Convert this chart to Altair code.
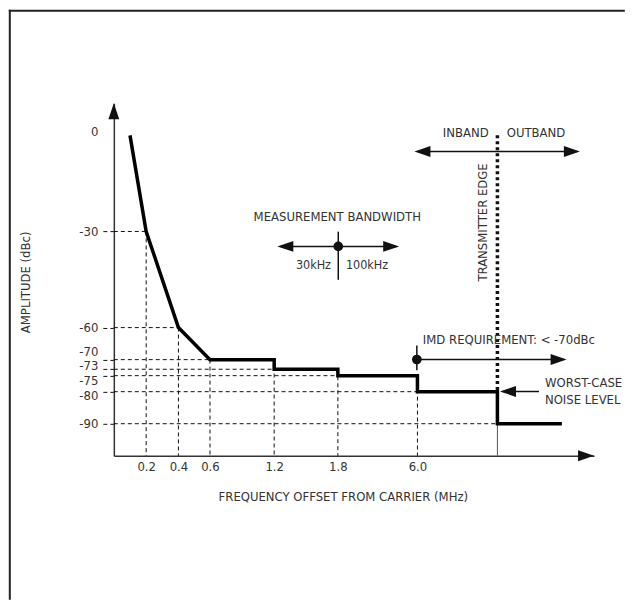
import altair as alt
import pandas as pd

# ---------------- data ----------------
EDGE = 10.0          # transmitter edge (unlabelled position on the schematic axis)
END = 14.0           # end of the -90 dBc segment
XMAX = 16.0          # end of the frequency axis (arrow tip)

curve_freq = [0.1, 0.2, 0.4, 0.6, 1.2, 1.2, 1.8, 1.8, 6.0, 6.0, EDGE, EDGE, END]
curve_db = [0, -30, -60, -70, -70, -73, -73, -75, -75, -80, -80, -90, -90]

x_ticks = [0.2, 0.4, 0.6, 1.2, 1.8, 6.0]
y_ticks = [0, -30, -60, -70, -73, -75, -80, -90]

# ---------------- styling ----------------
FONT = "DejaVu Sans Condensed, Liberation Sans Narrow, sans-serif"
TXT = "#333333"
INK = "#111111"
W, H = 481, 353
FS = 13

# schematic (piecewise) frequency axis
X_DOMAIN = [0, 0.2, 0.4, 0.6, 1.2, 1.8, 6.0, EDGE, END, XMAX]
X_RANGE = [0, 32.4, 64.7, 96.3, 160.6, 224.4, 304.1, 384.2, 448.8, W]
xscale = alt.Scale(domain=X_DOMAIN, range=X_RANGE, nice=False, zero=False)
yscale = alt.Scale(domain=[-100, 10], nice=False, zero=False)

xaxis = alt.Axis(
    values=x_ticks, format=".1f", ticks=False, grid=False, labelPadding=5,
    labelFont=FONT, labelFontSize=FS, labelColor=TXT, labelFlush=False, labelOverlap=False,
    domainColor="#333333", domainWidth=1.5,
    title="FREQUENCY OFFSET FROM CARRIER (MHz)", titleX=229.4, titleY=41,
    titleBaseline="middle", titleAlign="center", titleFont=FONT, titleFontSize=FS,
    titleFontWeight="normal", titleColor=TXT,
)
yaxis = alt.Axis(
    values=y_ticks, labelExpr="'' + datum.value", grid=False,
    ticks=True, tickSize=11, tickDash=[4, 3], tickColor=INK, tickWidth=1,
    tickOpacity={"condition": {"test": "datum.value == 0", "value": 0}, "value": 1},
    labelPadding=5, labelFont=FONT, labelFontSize=FS, labelColor=TXT,
    labelFlush=False, labelOverlap=False,
    labelOffset={"condition": [
        {"test": "datum.value == 0", "value": -4},
        {"test": "datum.value == -70", "value": -8.3},
        {"test": "datum.value == -73", "value": -3.5},
        {"test": "datum.value == -75", "value": 4.6},
        {"test": "datum.value == -80", "value": 3.6},
    ], "value": 0},
    domainColor="#333333", domainWidth=1.5,
    title="AMPLITUDE (dBc)", titleX=-88.2, titleY=178.8, titleAngle=270,
    titleBaseline="middle", titleAlign="center", titleFont=FONT, titleFontSize=FS,
    titleFontWeight="normal", titleColor=TXT,
)


def X(field):
    return alt.X(field, type="quantitative", scale=xscale, axis=xaxis)


def Y(field):
    return alt.Y(field, type="quantitative", scale=yscale, axis=yaxis)


# ---------------- derived tables ----------------
curve = pd.DataFrame({"f": curve_freq, "db": curve_db, "i": range(len(curve_freq))})

h_rows = []
for lv in y_ticks[1:]:
    end = min(f for f, d in zip(curve_freq, curve_db) if d == lv)
    h_rows.append({"f": 0.0, "f2": end, "db": lv})
hdash = pd.DataFrame(h_rows)

v_rows = []
for t in x_ticks:
    top = max(d for f, d in zip(curve_freq, curve_db) if f == t)
    v_rows.append({"f": t, "db": top, "db2": -100})
vdash = pd.DataFrame(v_rows)

edge_thin = pd.DataFrame({"f": [EDGE], "db": [-90], "db2": [-100]})
edge_dot = pd.DataFrame({"f": [EDGE], "db": [0], "db2": [-80]})

one = pd.DataFrame({"k": [0]})

# ---------------- helpers for annotation marks (pixel placement) ----------------
ARROW = {
    "right": "M0,0L-2,-0.68L-2,0.68Z",
    "left": "M0,0L2,-0.68L2,0.68Z",
    "up": "M0,0L-0.68,2L0.68,2Z",
}


def text(t, x, y, align="center", angle=0, size=FS):
    return alt.Chart(one).mark_text(
        text=t, align=align, baseline="middle", angle=angle,
        font=FONT, fontSize=size, color=TXT,
    ).encode(x=alt.value(x), y=alt.value(y))


def hseg(x, x2, y, width=1.5, color=INK):
    return alt.Chart(one).mark_rule(strokeWidth=width, color=color, strokeCap="square").encode(
        x=alt.value(x), x2=alt.value(x2), y=alt.value(y))


def vseg(x, y, y2, width=1.5, color=INK):
    return alt.Chart(one).mark_rule(strokeWidth=width, color=color, strokeCap="square").encode(
        x=alt.value(x), y=alt.value(y), y2=alt.value(y2))


def head(x, y, d):
    return alt.Chart(one).mark_point(
        shape=ARROW[d], size=256, filled=True, fill=INK, strokeWidth=0, opacity=1,
    ).encode(x=alt.value(x), y=alt.value(y))


def dot(x, y):
    return alt.Chart(one).mark_point(
        shape="circle", size=95, filled=True, fill=INK, strokeWidth=0, opacity=1,
    ).encode(x=alt.value(x), y=alt.value(y))


# ---------------- layers ----------------
frame = [
    hseg(-104.2, 510.8, -92.7, width=2, color="#222222"),
    vseg(-104.2, -92.7, 496.3, width=2, color="#222222"),
]

h_layer = alt.Chart(hdash).mark_rule(strokeDash=[4, 3], strokeWidth=1, color=INK).encode(
    x=X("f"), x2="f2", y=Y("db"))
v_layer = alt.Chart(vdash).mark_rule(strokeDash=[4, 3], strokeWidth=1, color=INK).encode(
    x=X("f"), y=Y("db"), y2="db2")
edge_layer = alt.Chart(edge_thin).mark_rule(strokeWidth=1, color="#555555").encode(
    x=X("f"), y=Y("db"), y2="db2")
dotted_layer = alt.Chart(edge_dot).mark_rule(strokeDash=[3, 3], strokeWidth=3.5, color=INK).encode(
    x=X("f"), y=Y("db"), y2="db2")
curve_layer = alt.Chart(curve).mark_line(
    strokeWidth=3.5, color="black", strokeJoin="miter", strokeCap="butt").encode(
    x=X("f"), y=Y("db"), order="i:Q")

axis_heads = [head(W, H, "right"), head(0, 0, "up")]

annot = [
    # measurement bandwidth
    text("MEASUREMENT BANDWIDTH", 223.8, 114.3),
    hseg(168, 282, 143.3),
    head(163.8, 143.3, "left"), head(285.8, 143.3, "right"),
    vseg(224.8, 129.3, 176),
    dot(224.8, 143.3),
    text("30kHz", 217.5, 162.3, align="right", size=12.5),
    text("100kHz", 232.5, 162.3, align="left", size=12.5),
    # inband / outband
    text("INBAND", 375.5, 30, align="right"),
    text("OUTBAND", 393.5, 30, align="left"),
    hseg(305, 463, 48.3),
    head(301.1, 48.3, "left"), head(466.8, 48.3, "right"),
    text("TRANSMITTER EDGE", 370.1, 119.3, angle=270),
    # IMD requirement
    text("IMD REQUIREMENT: < -70dBc", 309.5, 236.6, align="left"),
    vseg(303.5, 243.3, 266.6),
    hseg(303.5, 450, 256.6),
    head(453.5, 256.6, "right"),
    dot(303.5, 256.6),
    # worst case noise level
    text("WORST-CASE", 431.8, 280, align="left"),
    text("NOISE LEVEL", 431.8, 297.3, align="left"),
    hseg(390, 425.1, 288.6),
    head(386.8, 288.6, "left"),
]

chart = alt.layer(
    *frame, h_layer, v_layer, edge_layer, dotted_layer, curve_layer, *axis_heads, *annot
).properties(width=W, height=H, padding=0).configure_view(stroke=None)

chart.save("out.html", embed_options={"renderer": "svg", "actions": False})
